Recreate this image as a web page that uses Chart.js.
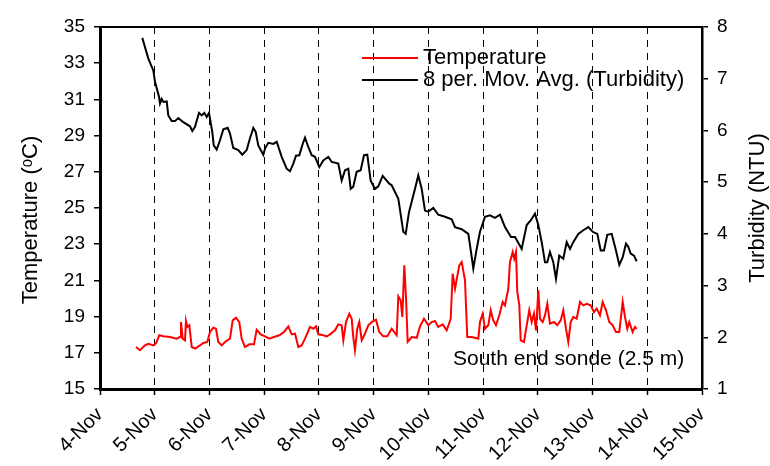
<!DOCTYPE html>
<html>
<head>
<meta charset="utf-8">
<script src="https://cdn.jsdelivr.net/npm/chart.js@4.4.1/dist/chart.umd.min.js"></script>
<style>
  html, body { margin: 0; padding: 0; background: #fff; }
  #wrap { width: 770px; height: 466px; }
</style>
</head>
<body>
<div id="wrap"><canvas id="chart"></canvas></div>
<script>
// x values are days of November (4.0 = midnight 4-Nov)
const dayLabels = ['4-Nov', '5-Nov', '6-Nov', '7-Nov', '8-Nov', '9-Nov', '10-Nov',
  '11-Nov', '12-Nov', '13-Nov', '14-Nov', '15-Nov'];

const tempDays = [4.658, 4.731, 4.822, 4.883, 4.974, 5.023, 5.084, 5.157, 5.279, 5.401,
  5.462, 5.480, 5.511, 5.553, 5.571, 5.595, 5.632, 5.676, 5.736, 5.827,
  5.888, 5.961, 6.010, 6.070, 6.120, 6.162, 6.224, 6.284, 6.375, 6.425,
  6.485, 6.545, 6.589, 6.649, 6.728, 6.814, 6.863, 6.936, 7.015, 7.093,
  7.179, 7.276, 7.362, 7.441, 7.503, 7.563, 7.623, 7.685, 7.746, 7.837,
  7.897, 7.947, 7.989, 8.080, 8.142, 8.203, 8.294, 8.354, 8.416, 8.446,
  8.495, 8.555, 8.599, 8.628, 8.659, 8.701, 8.738, 8.782, 8.842, 8.902,
  8.965, 9.043, 9.103, 9.176, 9.250, 9.330, 9.421, 9.451, 9.494, 9.524,
  9.560, 9.591, 9.622, 9.695, 9.787, 9.847, 9.920, 9.999, 10.061, 10.121,
  10.181, 10.262, 10.335, 10.408, 10.444, 10.487, 10.565, 10.609, 10.669, 10.711,
  10.792, 10.912, 10.943, 10.993, 11.035, 11.095, 11.139, 11.186, 11.236, 11.296,
  11.358, 11.400, 11.461, 11.491, 11.541, 11.570, 11.601, 11.625, 11.662, 11.687,
  11.747, 11.797, 11.844, 11.888, 11.930, 11.967, 12.009, 12.040, 12.089, 12.131,
  12.173, 12.222, 12.295, 12.356, 12.418, 12.465, 12.515, 12.557, 12.601, 12.648,
  12.710, 12.771, 12.831, 12.893, 12.966, 13.026, 13.076, 13.136, 13.185, 13.246,
  13.306, 13.368, 13.428, 13.489, 13.551, 13.593, 13.635, 13.671, 13.733, 13.775,
  13.806];
const tempValues = [17.32, 17.14, 17.41, 17.50, 17.41, 17.54, 17.97, 17.91, 17.87, 17.78,
  17.87, 18.70, 17.78, 17.69, 18.76, 18.43, 18.52, 17.32, 17.23, 17.41,
  17.54, 17.60, 18.15, 18.39, 18.33, 17.60, 17.41, 17.60, 17.78, 18.79,
  18.94, 18.70, 17.78, 17.32, 17.47, 17.47, 18.28, 18.02, 17.91, 17.78,
  17.87, 17.97, 18.15, 18.46, 18.02, 18.06, 17.32, 17.41, 17.78, 18.43,
  18.33, 18.46, 18.02, 17.97, 17.91, 18.02, 18.24, 18.57, 18.52, 17.69,
  18.70, 19.16, 18.88, 17.87, 17.14, 18.33, 18.70, 17.69, 18.06, 18.52,
  18.70, 18.83, 18.15, 17.91, 17.91, 18.33, 17.97, 20.12, 19.90, 18.98,
  21.83, 20.08, 17.60, 17.87, 17.83, 18.46, 18.88, 18.52, 18.70, 18.76,
  18.43, 18.57, 18.24, 18.88, 21.37, 20.54, 21.83, 22.02, 21.01, 17.87,
  17.87, 17.78, 18.70, 19.16, 18.33, 18.52, 19.35, 18.79, 18.52, 19.07,
  19.81, 19.62, 20.54, 22.02, 22.57, 22.20, 22.57, 20.36, 19.62, 17.69,
  17.60, 18.52, 19.35, 18.70, 19.16, 18.24, 20.45, 18.88, 18.70, 19.07,
  19.71, 18.61, 18.70, 18.52, 18.79, 19.35, 18.33, 17.60, 18.70, 18.98,
  18.88, 19.81, 19.62, 19.71, 19.62, 19.25, 19.44, 19.07, 19.81, 19.35,
  18.70, 18.52, 18.15, 18.15, 19.81, 18.98, 18.33, 18.70, 18.15, 18.43,
  18.33];

const turbDays = [4.773, 4.883, 4.974, 5.005, 5.078, 5.096, 5.127, 5.157, 5.219, 5.248,
  5.310, 5.370, 5.431, 5.522, 5.644, 5.687, 5.736, 5.809, 5.858, 5.906,
  5.950, 5.992, 6.052, 6.078, 6.132, 6.193, 6.253, 6.333, 6.375, 6.436,
  6.527, 6.600, 6.680, 6.741, 6.801, 6.845, 6.892, 6.984, 7.015, 7.075,
  7.167, 7.229, 7.320, 7.411, 7.472, 7.532, 7.581, 7.642, 7.704, 7.746,
  7.806, 7.868, 7.928, 8.007, 8.080, 8.172, 8.234, 8.354, 8.416, 8.477,
  8.537, 8.581, 8.628, 8.690, 8.763, 8.824, 8.884, 8.946, 9.025, 9.085,
  9.165, 9.286, 9.330, 9.451, 9.542, 9.586, 9.646, 9.756, 9.816, 9.878,
  9.938, 9.999, 10.090, 10.181, 10.304, 10.426, 10.487, 10.609, 10.730, 10.779,
  10.821, 10.883, 10.943, 11.035, 11.126, 11.217, 11.309, 11.400, 11.510, 11.583,
  11.705, 11.797, 11.870, 11.948, 12.009, 12.071, 12.131, 12.173, 12.222, 12.283,
  12.332, 12.392, 12.465, 12.528, 12.588, 12.648, 12.740, 12.831, 12.922, 13.003,
  13.087, 13.149, 13.209, 13.269, 13.350, 13.428, 13.489, 13.551, 13.611, 13.653,
  13.697, 13.757, 13.806];
const turbValues = [7.79, 7.39, 7.16, 6.94, 6.65, 6.52, 6.61, 6.55, 6.56, 6.29,
  6.18, 6.18, 6.24, 6.16, 6.08, 5.99, 6.07, 6.34, 6.29, 6.34,
  6.26, 6.34, 5.97, 5.71, 5.63, 5.81, 6.02, 6.05, 5.94, 5.66,
  5.62, 5.53, 5.62, 5.85, 6.05, 5.97, 5.71, 5.53, 5.65, 5.76,
  5.74, 5.78, 5.49, 5.26, 5.21, 5.36, 5.51, 5.52, 5.74, 5.86,
  5.68, 5.52, 5.49, 5.29, 5.42, 5.49, 5.39, 5.36, 5.03, 5.23,
  5.26, 4.87, 4.91, 5.20, 5.23, 5.52, 5.53, 5.03, 4.87, 4.92,
  5.12, 4.97, 4.94, 4.68, 4.04, 4.00, 4.42, 4.87, 5.13, 4.87,
  4.45, 4.43, 4.50, 4.37, 4.33, 4.28, 4.13, 4.09, 4.00, 3.65,
  3.33, 3.71, 4.04, 4.33, 4.36, 4.31, 4.37, 4.13, 3.94, 3.94,
  3.71, 4.17, 4.26, 4.39, 4.17, 3.84, 3.45, 3.45, 3.65, 3.45,
  3.13, 3.58, 3.52, 3.84, 3.71, 3.84, 4.00, 4.07, 4.13, 4.04,
  4.00, 3.68, 3.68, 3.98, 4.00, 3.68, 3.40, 3.55, 3.81, 3.75,
  3.62, 3.58, 3.47];

const FONT = '"Liberation Sans", Arial, sans-serif';

const toPoints = (xs, ys) => xs.map((x, i) => ({ x: x, y: ys[i] }));

// legend, axis titles, top border and the note, drawn by hand
const decorations = {
  id: 'decorations',
  afterDraw(chart) {
    const ctx = chart.ctx;
    const a = chart.chartArea;
    ctx.save();
    ctx.strokeStyle = '#000';
    ctx.lineWidth = 2;
    ctx.beginPath();
    ctx.moveTo(a.left, a.top);
    ctx.lineTo(a.right, a.top);
    ctx.stroke();

    ctx.fillStyle = '#000';
    ctx.font = '22px ' + FONT;
    ctx.textAlign = 'center';
    ctx.textBaseline = 'middle';
    const midY = (a.top + a.bottom) / 2;
    ctx.save();
    ctx.translate(a.left - 69, midY + 12);
    ctx.rotate(-Math.PI / 2);
    ctx.fillText('Temperature (ᵒC)', 0, 0);
    ctx.restore();
    ctx.save();
    ctx.translate(a.right + 56, midY);
    ctx.rotate(-Math.PI / 2);
    ctx.fillText('Turbidity (NTU)', 0, 0);
    ctx.restore();

    ctx.font = '22px ' + FONT;
    ctx.textAlign = 'left';
    const lx = a.left + 262;
    chart.data.datasets.forEach((ds, i) => {
      const y = a.top + 31 + i * 22;
      ctx.strokeStyle = ds.borderColor;
      ctx.lineWidth = 2;
      ctx.beginPath();
      ctx.moveTo(lx, y);
      ctx.lineTo(lx + 56, y);
      ctx.stroke();
      ctx.fillText(ds.label, lx + 61, y);
    });

    ctx.font = '21px ' + FONT;
    ctx.fillText('South end sonde (2.5 m)', a.left + 353, a.bottom - 30);
    ctx.restore();
  }
};

new Chart(document.getElementById('chart'), {
  type: 'line',
  data: {
    datasets: [{
      label: 'Temperature',
      data: toPoints(tempDays, tempValues),
      borderColor: '#ff0000',
      borderWidth: 2,
      pointRadius: 0,
      yAxisID: 'y',
      order: 2
    }, {
      label: '8 per. Mov. Avg. (Turbidity)',
      data: toPoints(turbDays, turbValues),
      borderColor: '#000000',
      borderWidth: 2,
      pointRadius: 0,
      yAxisID: 'y2',
      order: 1
    }]
  },
  options: {
    responsive: true,
    maintainAspectRatio: false,
    animation: false,
    layout: { padding: { top: 27, left: 0, right: 0, bottom: 0 } },
    plugins: { legend: { display: false }, tooltip: { enabled: false } },
    scales: {
      x: {
        type: 'linear',
        min: 4,
        max: 15,
        afterFit: (s) => { s.height = 77; },
        ticks: {
          stepSize: 1,
          autoSkip: false,
          maxRotation: 45,
          minRotation: 45,
          padding: 8,
          color: '#000',
          font: { family: FONT, size: 20 },
          callback: (v) => dayLabels[Math.round(v - 4)]
        },
        grid: {
          color: '#000',
          lineWidth: 1,
          tickLength: 6,
          tickWidth: 1.5
        },
        border: { color: '#000', width: 3, dash: [7, 6] }
      },
      y: {
        position: 'left',
        min: 15,
        max: 35,
        afterFit: (s) => { s.width = 100; },
        ticks: {
          stepSize: 2,
          padding: 9,
          color: '#000',
          font: { family: FONT, size: 19 }
        },
        grid: { drawOnChartArea: false, color: '#000', tickLength: 6, lineWidth: 1.5 },
        border: { color: '#000', width: 3 }
      },
      y2: {
        position: 'right',
        min: 1,
        max: 8,
        afterFit: (s) => { s.width = 68; },
        ticks: {
          stepSize: 1,
          padding: 9,
          color: '#000',
          font: { family: FONT, size: 19 }
        },
        grid: { drawOnChartArea: false, color: '#000', tickLength: 6, lineWidth: 1.5 },
        border: { color: '#000', width: 2.5 }
      }
    }
  },
  plugins: [decorations]
});
</script>
</body>
</html>
